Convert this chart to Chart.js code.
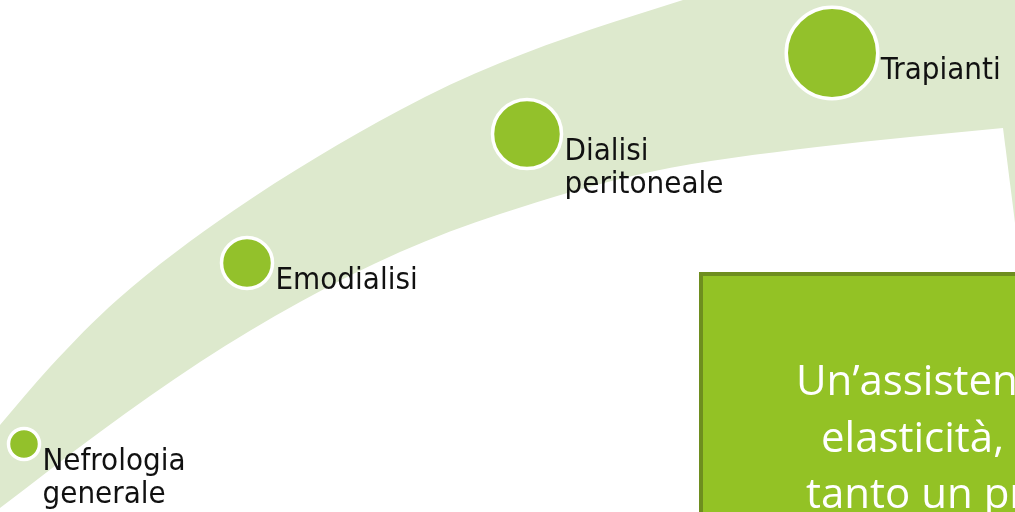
<!DOCTYPE html>
<html>
<head>
<meta charset="utf-8">
<script src="https://cdn.jsdelivr.net/npm/chart.js@4/dist/chart.umd.min.js"></script>
<style>
html, body { margin: 0; padding: 0; background: #fff; }
#wrap { width: 1015px; height: 512px; position: relative; }
</style>
</head>
<body>
<div id="wrap"><canvas id="StepChart"></canvas></div>
<script>
// percorso: etichette e nodi
const stepLabels = [['Nefrologia', 'generale'], ['Emodialisi'], ['Dialisi', 'peritoneale'], ['Trapianti']];
const stepX = [24, 247, 527, 832];
const stepY = [444, 263, 134, 53];
const stepR = [15.5, 25.5, 34.5, 45.75];

// bordi della freccia curva
const outerX = [-20, 0, 50, 117, 233, 400, 500, 683, 860, 1100];
const outerY = [448, 425, 367, 300, 211, 110, 63, 0, -50, -80];
const innerX = [-20, 0, 100, 200, 300, 400, 500, 650, 817, 1003];
const innerY = [523, 508, 432, 362, 302, 252, 214, 172, 147, 128];
const arrowX = [1003, 1040];
const arrowY = [128, 420];

// riquadro di testo
const boxX = [701, 1100];
const boxY = [274, 600];
const boxLines = ['Un’assistenza', 'elasticità,', 'tanto un professionista'];

const pts = (xs, ys) => xs.map((x, i) => ({x: x, y: ys[i]}));

const edge = {
    type: 'line',
    pointRadius: 0,
    borderWidth: 1,
    borderColor: 'rgba(0,0,0,0)',
    fill: 'start'
};

const stepText = {
    id: 'stepText',
    afterDatasetsDraw(chart) {
        const {ctx, scales: {x, y}} = chart;
        ctx.save();
        ctx.textBaseline = 'alphabetic';
        ctx.fillStyle = '#111';
        ctx.font = '31px "DejaVu Sans Condensed", "DejaVu Sans", sans-serif';
        stepLabels.forEach((lines, i) => {
            const px = x.getPixelForValue(stepX[i]) + stepR[i] + 3;
            const py = y.getPixelForValue(stepY[i]) + 26;
            lines.forEach((t, j) => ctx.fillText(t, px, py + j * 33));
        });
        ctx.fillStyle = '#fff';
        ctx.font = '42px "Open Sans", sans-serif';
        const lx = [796, 821, 806];
        const ly = [395, 452, 508];
        boxLines.forEach((t, j) => ctx.fillText(t, lx[j], ly[j]));
        ctx.restore();
    }
};

const stepCtx = document.getElementById('StepChart').getContext('2d');
const StepChart = new Chart(stepCtx, {
    type: 'bubble',
    data: {
        datasets: [{
            label: 'Percorso',
            data: stepX.map((x, i) => ({x: x, y: stepY[i], r: stepR[i]})),
            backgroundColor: '#93c12b',
            borderColor: '#ffffff',
            borderWidth: 3.5,
            order: 1
        }, {
            ...edge,
            fill: false,
            data: pts([boxX[0], boxX[0], boxX[1]], [boxY[1], boxY[0], boxY[0]]),
            borderColor: '#6e8d1f',
            borderWidth: 4,
            order: 2
        }, {
            ...edge,
            data: pts(boxX, [boxY[0], boxY[0]]),
            backgroundColor: '#93c225',
            order: 3
        }, {
            ...edge,
            data: pts(arrowX, arrowY),
            backgroundColor: '#ffffff',
            order: 4
        }, {
            ...edge,
            data: pts(innerX, innerY),
            backgroundColor: '#ffffff',
            cubicInterpolationMode: 'monotone',
            order: 5
        }, {
            ...edge,
            data: pts(outerX, outerY),
            backgroundColor: '#dde9cd',
            cubicInterpolationMode: 'monotone',
            order: 6
        }]
    },
    options: {
        responsive: true,
        maintainAspectRatio: false,
        animation: false,
        events: [],
        layout: { padding: 0, autoPadding: false },
        plugins: {
            legend: { display: false },
            tooltip: { enabled: false }
        },
        scales: {
            x: { type: 'linear', min: 0, max: 1015, display: false },
            y: { type: 'linear', min: 0, max: 512, reverse: true, display: false }
        }
    },
    plugins: [stepText]
});
</script>
</body>
</html>
